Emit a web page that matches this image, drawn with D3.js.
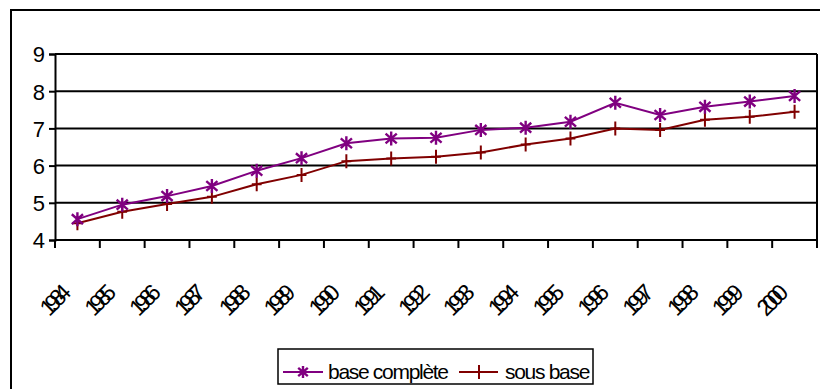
<!DOCTYPE html>
<html><head><meta charset="utf-8">
<script src="https://cdn.jsdelivr.net/npm/d3@7"></script>
<style>body{margin:0;background:#fff}svg{display:block}text{font-family:Arial,"Liberation Sans",sans-serif}</style>
</head><body>
<svg id="c" width="820" height="389"></svg>
<script>
const years = ["1984","1985","1986","1987","1988","1989","1990","1991","1992","1993","1994","1995","1996","1997","1998","1999","2000"];
const baseComplete = [4.56,4.95,5.18,5.45,5.86,6.2,6.6,6.73,6.75,6.96,7.02,7.18,7.69,7.36,7.58,7.72,7.87];
const sousBase = [4.45,4.76,4.97,5.16,5.5,5.75,6.12,6.19,6.24,6.35,6.57,6.73,7.0,6.96,7.23,7.31,7.45];
const yTicks = [4,5,6,7,8,9];
const seriesNames = ["base complète","sous base"];

const svg = d3.select("#c");
const L=55, R=817, T=54, B=240;
const x = d3.scaleBand().domain(years).range([L,R]);
const y = d3.scaleLinear().domain([4,9]).range([B,T]);

// outer frame
svg.append("rect").attr("x",11).attr("y",10).attr("width",830).attr("height",400)
  .attr("fill","none").attr("stroke","#000").attr("stroke-width",2);

// gridlines
svg.append("g").selectAll("line").data(yTicks.slice(1)).join("line")
  .attr("x1",L).attr("x2",R).attr("y1",d=>y(d)).attr("y2",d=>y(d))
  .attr("stroke","#000").attr("stroke-width",2);
svg.append("line").attr("x1",R).attr("x2",R).attr("y1",T).attr("y2",B).attr("stroke","#000").attr("stroke-width",2);

// y axis
const ya = svg.append("g").attr("transform",`translate(${L},0)`)
  .call(d3.axisLeft(y).tickValues(yTicks).tickSize(6).tickPadding(4).tickFormat(d3.format("d")));
ya.select(".domain").attr("stroke","#000").attr("stroke-width",2);
ya.selectAll(".tick line").attr("stroke","#000").attr("stroke-width",2);
ya.selectAll("text").attr("font-size",22).attr("fill","#000").attr("dy","0.36em");

// x axis
svg.append("line").attr("x1",L).attr("x2",R).attr("y1",B).attr("y2",B).attr("stroke","#000").attr("stroke-width",2);
const bounds = years.map(d=>x(d)).concat([x(years[years.length-1])+x.bandwidth()]);
svg.append("g").selectAll("line").data(bounds).join("line")
  .attr("x1",d=>d).attr("x2",d=>d).attr("y1",B).attr("y2",B+8)
  .attr("stroke","#000").attr("stroke-width",2);
svg.append("g").selectAll("text").data(years).join("text")
  .attr("transform",d=>`translate(${x(d)+x.bandwidth()/2-9},${298}) rotate(-45)`)
  .attr("text-anchor","end").attr("font-size",23).attr("letter-spacing","-6px").attr("fill","#000")
  .text(d=>d);

const cx = d=>x(d)+x.bandwidth()/2;
const line = d3.line().x((v,i)=>cx(years[i])).y(v=>y(v));

function star(g,px,py,color,s){
  g.append("path").attr("d",`M${px},${py-s}V${py+s}M${px-s*0.8},${py-s*0.7}L${px+s*0.8},${py+s*0.7}M${px-s*0.8},${py+s*0.7}L${px+s*0.8},${py-s*0.7}`)
   .attr("stroke",color).attr("stroke-width",2.4).attr("fill","none");
}
function plus(g,px,py,color,s){
  g.append("path").attr("d",`M${px},${py-s}V${py+s}M${px-s*0.7},${py}H${px+s*0.7}`)
   .attr("stroke",color).attr("stroke-width",2).attr("fill","none");
}

const purple="#800080", maroon="#800000";
svg.append("path").datum(sousBase).attr("d",line).attr("fill","none").attr("stroke",maroon).attr("stroke-width",2);
svg.append("path").datum(baseComplete).attr("d",line).attr("fill","none").attr("stroke",purple).attr("stroke-width",2);
const gm = svg.append("g");
sousBase.forEach((v,i)=>plus(gm,cx(years[i]),y(v),maroon,7));
baseComplete.forEach((v,i)=>star(gm,cx(years[i]),y(v),purple,7));

// legend
const lg = svg.append("g");
lg.append("rect").attr("x",278).attr("y",349).attr("width",315).attr("height",35)
  .attr("fill","#fff").attr("stroke","#000").attr("stroke-width",1.5);
lg.append("line").attr("x1",283).attr("x2",323).attr("y1",372).attr("y2",372).attr("stroke",purple).attr("stroke-width",2);
star(lg,303,372,purple,6);
lg.append("text").attr("x",328).attr("y",379).attr("font-size",21).attr("letter-spacing","-1.3px").text(seriesNames[0]);
lg.append("line").attr("x1",459).attr("x2",498).attr("y1",372).attr("y2",372).attr("stroke",maroon).attr("stroke-width",2);
plus(lg,479,372,maroon,7);
lg.append("text").attr("x",505).attr("y",379).attr("font-size",21).attr("letter-spacing","-1.3px").text(seriesNames[1]);
</script>
</body></html>
